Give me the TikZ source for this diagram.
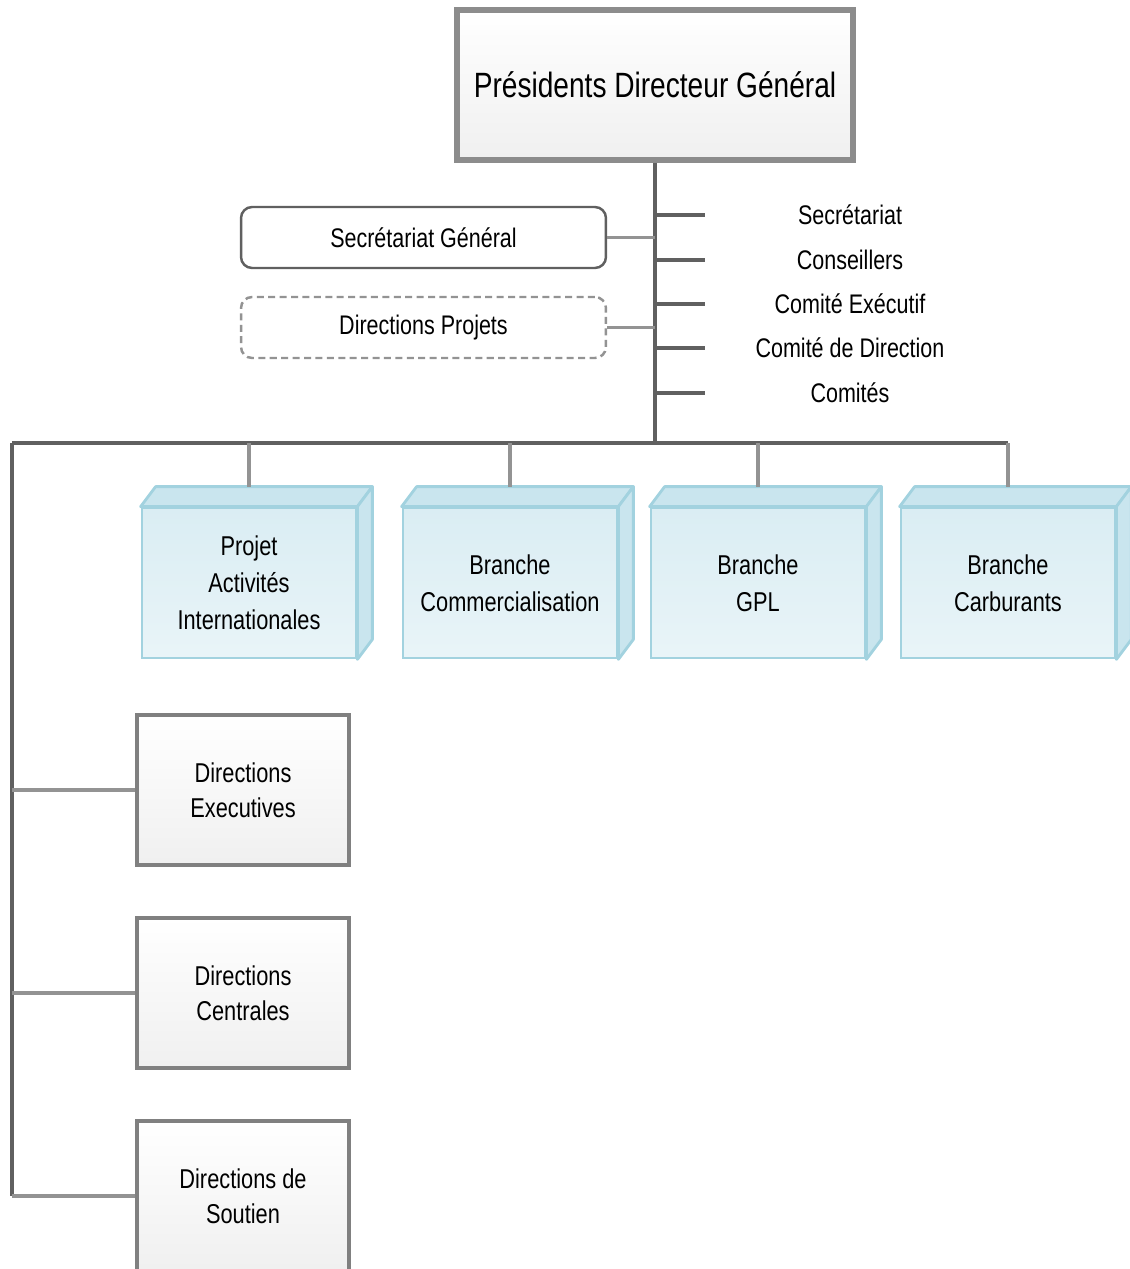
\documentclass[tikz,border=0pt]{standalone}
\usepackage{fontspec}
\setmainfont{Liberation Sans}[FakeStretch=0.8]
\usetikzlibrary{positioning}
\definecolor{linegray}{HTML}{606060}
\definecolor{lightline}{HTML}{939393}
\definecolor{framegray}{HTML}{8C8C8C}
\definecolor{cyanfill}{HTML}{DAEDF3}
\definecolor{cyantop}{HTML}{C9E5EE}
\definecolor{cyanline}{HTML}{A2D2DF}

\begin{document}
\begin{tikzpicture}
  [x=0.02cm,y=-0.02cm,
   link/.style={draw=linegray,line width=2pt},
   drop/.style={draw=lightline,line width=2pt},
   pdgbox/.style={draw=framegray,line width=3.4pt,top color=white,bottom color=gray!12,
     minimum width=7.92cm,minimum height=3cm,font=\fontsize{20}{24}\selectfont},
   sgbox/.style={draw=linegray,line width=1.4pt,rounded corners=0.22cm,fill=white,
     minimum width=7.3cm,minimum height=1.22cm,font=\fontsize{15.3}{18}\selectfont},
   branchbox/.style={draw=cyanline,line width=1.6pt,top color=cyanfill,bottom color=cyanfill!60,
     minimum width=4.28cm,minimum height=3cm,align=center,
     font=\fontsize{15.5}{21}\selectfont},
   dirbox/.style={draw=linegray!80,line width=2pt,top color=white,bottom color=gray!12,
     minimum width=4.24cm,minimum height=3cm,align=center,
     font=\fontsize{15.5}{20}\selectfont},
   council/.style={font=\fontsize{15.3}{18}\selectfont}]

  \clip (0,0) rectangle (1130,1269);

  % top of the chart
  \node[pdgbox] (pdg) at (655,85) {Présidents Directeur Général};
  \node[sgbox] (sg) at (423.5,237.5) {Secrétariat Général};
  \node[sgbox,dashed,dash pattern=on 4pt off 2.5pt,draw=lightline] (dp) at (423.5,327.5) {Directions Projets};

  \coordinate (hub) at (655,443);
  \coordinate (busL) at (12,443);
  \coordinate (busR) at (1008,443);
  \coordinate (spine) at (12,1196);

  \draw[link] (pdg.south) -- (hub);
  \draw[drop] (sg.east) -- (sg.east -| hub);
  \draw[drop] (dp.east) -- (dp.east -| hub);

  % councils on the right
  \foreach \y/\name [count=\i] in {215/Secrétariat,260/Conseillers,304/Comité Exécutif,
      348/Comité de Direction,393/Comités}
  {
    \coordinate (c\i) at (655,\y);
    \draw[link] (c\i) -- ++(50,0);
    \node[council] (cl\i) at (850,\y) {\name};
  }

  % branches
  \draw[link] (busL) -- (busR);
  \node[branchbox] (b1) at (249,583) {Projet\\Activités\\Internationales};
  \node[branchbox] (b2) at (510,583) {Branche\\Commercialisation};
  \node[branchbox] (b3) at (758,583) {Branche\\GPL};
  \node[branchbox] (b4) at (1008,583) {Branche\\Carburants};

  \foreach \b in {b1,b2,b3,b4}
  {
    \filldraw[draw=cyanline,fill=cyantop,line width=1.6pt,line join=round]
      (\b.north west) -- ++(15,-20) -- ([shift={(15,-20)}]\b.north east)
      -- (\b.north east) -- cycle;
    \filldraw[draw=cyanline,fill=cyantop,line width=1.6pt,line join=round]
      (\b.north east) -- ++(15,-20) -- ([shift={(15,-20)}]\b.south east)
      -- (\b.south east) -- cycle;
    \draw[drop] (\b.north |- hub) -- ([yshift=0.4cm]\b.north);
  }

  % directions on the left
  \draw[link] (busL) -- (spine);
  \node[dirbox] (d1) at (243,790) {Directions\\Executives};
  \node[dirbox] (d2) at (243,993) {Directions\\Centrales};
  \node[dirbox] (d3) at (243,1196) {Directions de\\Soutien};

  \foreach \d in {d1,d2,d3}
    \draw[drop] (\d.west -| busL) -- (\d.west);

\end{tikzpicture}
\end{document}
